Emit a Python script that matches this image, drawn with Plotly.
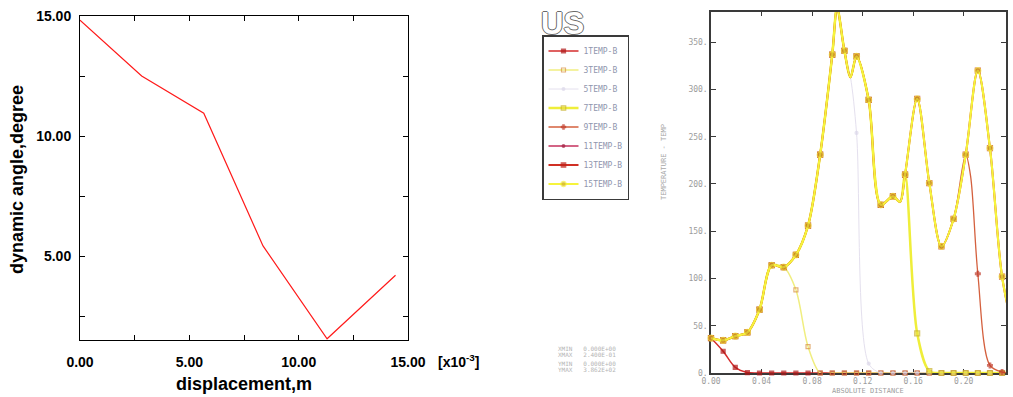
import plotly.graph_objects as go

W, H = 1013, 397

# ---------------- left chart data ----------------
DISP_E3 = [0.0, 2.82, 5.66, 8.37, 11.30, 14.43]
ANGLE_DEG = [14.83, 12.50, 10.95, 5.42, 1.55, 4.20]
LEFT_XTICKS = [0, 5, 10, 15]
LEFT_XLABELS = ["0.00", "5.00", "10.00", "15.00"]
LEFT_YTICKS = [5, 10, 15]
LEFT_YLABELS = ["5.00", "10.00", "15.00"]
LEFT_MINOR_STEP = 2.5

# ---------------- right chart data ----------------
DIST = [0.0, 0.0096, 0.0192, 0.0288, 0.0384, 0.048, 0.0576, 0.0672, 0.0768, 0.0864,
        0.096, 0.1056, 0.1152, 0.1248, 0.1344, 0.144, 0.1536, 0.1632, 0.1728, 0.1824,
        0.192, 0.2016, 0.2112, 0.2208, 0.2304, 0.24]
TEMP_ENV = [37, 34.5, 39, 43, 67, 114, 112, 125, 156, 231, 337, 341, 335, 289, 178, 187,
            210, 290, 201, 134, 163, 231, 320, 238, 102, 40]
TEMP_1 = [37, 23, 6, 0.5, 0, 0, 0, 0, 0, 0, 0, 0, 0, 0, 0, 0, 0, 0, 0, 0, 0, 0, 0, 0, 0, 0]
TEMP_3 = [37, 34.5, 39, 43, 67, 114, 112, 88, 28, 0, 0, 0, 0, 0, 0, 0, 0, 0, 0, 0, 0, 0, 0, 0, 0, 0]
TEMP_5 = [37, 34.5, 39, 43, 67, 114, 112, 125, 156, 231, 337, 341, 254, 10, 0, 0, 0, 0, 0, 0,
          0, 0, 0, 0, 0, 0]
TEMP_7 = [37, 34.5, 39, 43, 67, 114, 112, 125, 156, 231, 337, 341, 335, 289, 178, 187, 210, 42,
          2, 0, 0, 0, 0, 0, 0, 0]
TEMP_9 = [37, 34.5, 39, 43, 67, 114, 112, 125, 156, 231, 337, 341, 335, 289, 178, 187, 210, 290,
          201, 134, 163, 231, 105, 8, 1, 0]
TEMP_11 = TEMP_ENV
TEMP_13 = TEMP_ENV
TEMP_15 = TEMP_ENV

# extra curve detail between markers
ENV_EXTRA_X = [0.0998, 0.1104, 0.1496]
ENV_EXTRA_Y = [386, 313, 181]
T5_EXTRA_X = [0.0998, 0.1104]
T5_EXTRA_Y = [386, 313]
T9_EXTRA_X = [0.0998, 0.1104, 0.1496, 0.2055]
T9_EXTRA_Y = [386, 313, 181, 208]

SERIES_NAMES = ["1TEMP-B", "3TEMP-B", "5TEMP-B", "7TEMP-B", "9TEMP-B", "11TEMP-B", "13TEMP-B", "15TEMP-B"]
SERIES_Y = [TEMP_1, TEMP_3, TEMP_5, TEMP_7, TEMP_9, TEMP_11, TEMP_13, TEMP_15]
SERIES_EXTRA = [([], []), ([], []), (T5_EXTRA_X, T5_EXTRA_Y), (ENV_EXTRA_X, ENV_EXTRA_Y),
                (T9_EXTRA_X, T9_EXTRA_Y), (ENV_EXTRA_X, ENV_EXTRA_Y), (ENV_EXTRA_X, ENV_EXTRA_Y),
                (ENV_EXTRA_X, ENV_EXTRA_Y)]

R_XTICKS = [0.0, 0.04, 0.08, 0.12, 0.16, 0.20, 0.24]
R_XLABELS = ["0.00", "0.04", "0.08", "0.12", "0.16", "0.20", "0.24"]
R_YTICKS = [0, 50, 100, 150, 200, 250, 300, 350]
R_YLABELS = ["0.", "50.", "100.", "150.", "200.", "250.", "300.", "350."]
INFO_LINES = ["XMIN   0.000E+00", "XMAX   2.400E-01", "YMIN   0.000E+00", "YMAX   3.862E+02"]

STYLES = [
    dict(color="#d42c2c", width=1.5, symbol="square", size=4, mcolor="#b01818", mline="#b01818"),
    dict(color="#f0ee80", width=1.5, symbol="square-open", size=4, mcolor="#d89040", mline="#d89040"),
    dict(color="#e4e0ee", width=1.0, symbol="circle", size=3, mcolor="#dcd8ea", mline="#dcd8ea"),
    dict(color="#efee3a", width=2.5, symbol="square", size=5, mcolor="#e8e040", mline="#c8b030"),
    dict(color="#d4603e", width=1.3, symbol="cross", size=4, mcolor="#c03a2a", mline="#c03a2a"),
    dict(color="#c4305c", width=1.3, symbol="circle", size=3, mcolor="#a02040", mline="#a02040"),
    dict(color="#d03024", width=2.0, symbol="square", size=5, mcolor="#c02018", mline="#c02018"),
    dict(color="#f6f43c", width=2.2, symbol="circle", size=6, mcolor="#d2b22c", mline="#f6f040"),
]


def px_x(p):
    return p / W


def px_y(p):
    return 1 - p / H


fig = go.Figure()

# left chart
fig.add_trace(go.Scatter(x=DISP_E3, y=ANGLE_DEG, mode="lines", xaxis="x", yaxis="y",
                         line=dict(color="#ff1a1a", width=1.2), showlegend=False))

# right chart
for name, ys, (ex, ey), st in zip(SERIES_NAMES, SERIES_Y, SERIES_EXTRA, STYLES):
    pts = [(x, y, st["size"]) for x, y in zip(DIST, ys)] + [(x, y, 0) for x, y in zip(ex, ey)]
    pts.sort(key=lambda p: p[0])
    fig.add_trace(go.Scatter(
        x=[p[0] for p in pts], y=[p[1] for p in pts], mode="lines+markers", name=name,
        xaxis="x2", yaxis="y2", cliponaxis=False,
        line=dict(color=st["color"], width=st["width"], shape="spline", smoothing=0.9),
        marker=dict(symbol=st["symbol"], size=[p[2] for p in pts], color=st["mcolor"],
                    line=dict(color=st["mline"], width=1.2)),
    ))

left_font = dict(family="Liberation Sans, Arial", size=14, color="black", weight="bold")
mono = "DejaVu Sans Mono, monospace"
grey_font = dict(family=mono, size=8, color="#9c9c9c")
left_minor = dict(dtick=LEFT_MINOR_STEP, tick0=0, ticks="inside", ticklen=5, tickcolor="black",
                  showgrid=False)

fig.update_layout(
    template="none",
    width=W, height=H, margin=dict(l=0, r=0, t=0, b=0, autoexpand=False),
    paper_bgcolor="white", plot_bgcolor="white",
    xaxis=dict(domain=[px_x(80), px_x(408)], range=[0, 15], anchor="y", automargin=False,
               tickvals=LEFT_XTICKS, ticktext=LEFT_XLABELS, ticks="inside", ticklen=5,
               tickcolor="black", mirror="ticks", showline=True, linecolor="black", linewidth=1,
               showgrid=False, zeroline=False, tickfont=left_font, ticklabelstandoff=9,
               minor=left_minor),
    yaxis=dict(domain=[px_y(340), px_y(16)], range=[1.5, 15], anchor="x", automargin=False,
               tickvals=LEFT_YTICKS, ticktext=LEFT_YLABELS, ticks="inside", ticklen=5,
               tickcolor="black", mirror="ticks", showline=True, linecolor="black", linewidth=1,
               showgrid=False, zeroline=False, tickfont=left_font, ticklabelstandoff=5,
               minor=left_minor),
    xaxis2=dict(domain=[px_x(711), px_x(1006)], range=[0, 0.2335], anchor="y2", automargin=False,
                tickvals=R_XTICKS, ticktext=R_XLABELS, ticks="inside", ticklen=4,
                tickcolor="#3a3a3a", mirror="ticks", showline=True, linecolor="#3a3a3a",
                linewidth=1.5, showgrid=False, zeroline=False, tickfont=grey_font,
                layer="below traces"),
    yaxis2=dict(domain=[px_y(373), px_y(12)], range=[0, 382], anchor="x2", automargin=False,
                tickvals=R_YTICKS, ticktext=R_YLABELS, ticks="inside", ticklen=5,
                tickcolor="#3a3a3a", mirror="ticks", showline=True, linecolor="#3a3a3a",
                linewidth=1.5, showgrid=False, zeroline=False, tickfont=grey_font,
                layer="below traces"),
    legend=dict(x=px_x(542), y=px_y(35), xanchor="left", yanchor="top",
                bgcolor="white", bordercolor="#3a3a3a", borderwidth=1.5,
                font=dict(family=mono, size=8, color="#9096ae"), itemwidth=30,
                tracegroupgap=0),
)

ann = []
ann.append(dict(text="<b>displacement,m</b>", x=px_x(244), y=px_y(384), xref="paper", yref="paper",
                showarrow=False, font=dict(family="Liberation Sans, Arial", size=18, color="black"),
                xanchor="center", yanchor="middle"))
ann.append(dict(text="<b>dynamic angle,degree</b>", x=px_x(17), y=px_y(180), xref="paper", yref="paper",
                showarrow=False, textangle=-90,
                font=dict(family="Liberation Sans, Arial", size=18, color="black"),
                xanchor="center", yanchor="middle"))
ann.append(dict(text="<b>[x10<sup>-3</sup>]</b>", x=px_x(436), y=px_y(361), xref="paper", yref="paper",
                showarrow=False, font=dict(family="Liberation Sans, Arial", size=14, color="black"),
                xanchor="left", yanchor="middle"))
# right chart texts
ann.append(dict(text=R_XLABELS[-1], x=R_XTICKS[-1], xref="x2", y=px_y(380), yref="paper",
                showarrow=False, font=grey_font, xanchor="center", yanchor="middle"))
ann.append(dict(text="ABSOLUTE DISTANCE", x=px_x(868), y=px_y(391), xref="paper", yref="paper",
                showarrow=False, font=dict(family=mono, size=7, color="#a0a0a0"),
                xanchor="center", yanchor="middle"))
ann.append(dict(text="TEMPERATURE - TEMP", x=px_x(664), y=px_y(162), xref="paper", yref="paper",
                showarrow=False, textangle=-90, font=dict(family=mono, size=7, color="#a8a8a8"),
                xanchor="center", yanchor="middle"))
ann.append(dict(text="<b>US</b>", x=px_x(539), y=px_y(23), xref="paper", yref="paper",
                showarrow=False, xanchor="left", yanchor="middle",
                font=dict(family="Liberation Sans, Arial", size=31, color="white",
                          shadow="1px 0 #6a6a6a, -1px 0 #6a6a6a, 0 1px #6a6a6a, 0 -1px #6a6a6a")))
for txt, yp in zip(INFO_LINES, [348, 354, 363, 369]):
    ann.append(dict(text=txt, x=px_x(556), y=px_y(yp), xref="paper", yref="paper", showarrow=False,
                    xanchor="left", yanchor="middle", font=dict(family=mono, size=6, color="#b4b4b4")))
fig.update_layout(annotations=ann)

fig.write_html("out.html", config={"displayModeBar": False},
               post_script="document.body.style.margin='0';")
